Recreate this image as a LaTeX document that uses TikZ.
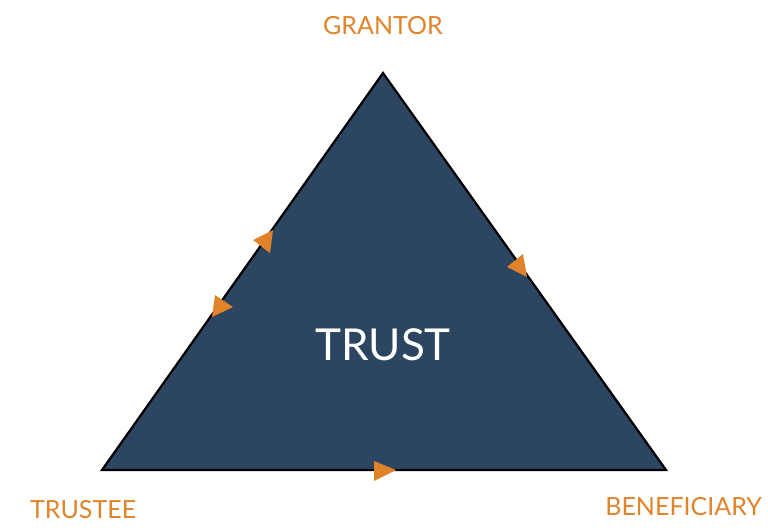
\documentclass[tikz,border=0pt]{standalone}
\usepackage{fontspec}
\setmainfont{Lato}
\definecolor{navy}{HTML}{2C4560}
\definecolor{org}{HTML}{E0832A}
\begin{document}
\begin{tikzpicture}[x=1pt,y=-1pt,
  lbl/.style={text=org,font=\fontsize{25}{25}\selectfont,inner sep=0pt},
  tip/.style={fill=org,draw=none}]
\useasboundingbox (0,0) rectangle (768,532);
\coordinate (G) at (383,73);
\coordinate (T) at (102,470);
\coordinate (B) at (666,470);
\draw[fill=navy,line width=2.2pt,line join=miter] (G) -- (B) -- (T) -- cycle;
\node[text=white,font=\fontsize{44}{44}\selectfont,inner sep=0pt] (trust) at (383,345) {TRUST};
\node[lbl] (g) at (383,26) {GRANTOR};
\node[lbl,anchor=west] (t) at (30,510) {TRUSTEE};
\node[lbl,anchor=east] (b) at (762,507) {BENEFICIARY};
\fill[tip] (253,240) -- (273,230) -- (270,253) -- cycle;
\fill[tip] (215,295) -- (233,307) -- (212,317) -- cycle;
\fill[tip] (507,267) -- (523,254) -- (527,277) -- cycle;
\fill[tip] (374,461) -- (396,470) -- (374,481) -- cycle;
\end{tikzpicture}
\end{document}
